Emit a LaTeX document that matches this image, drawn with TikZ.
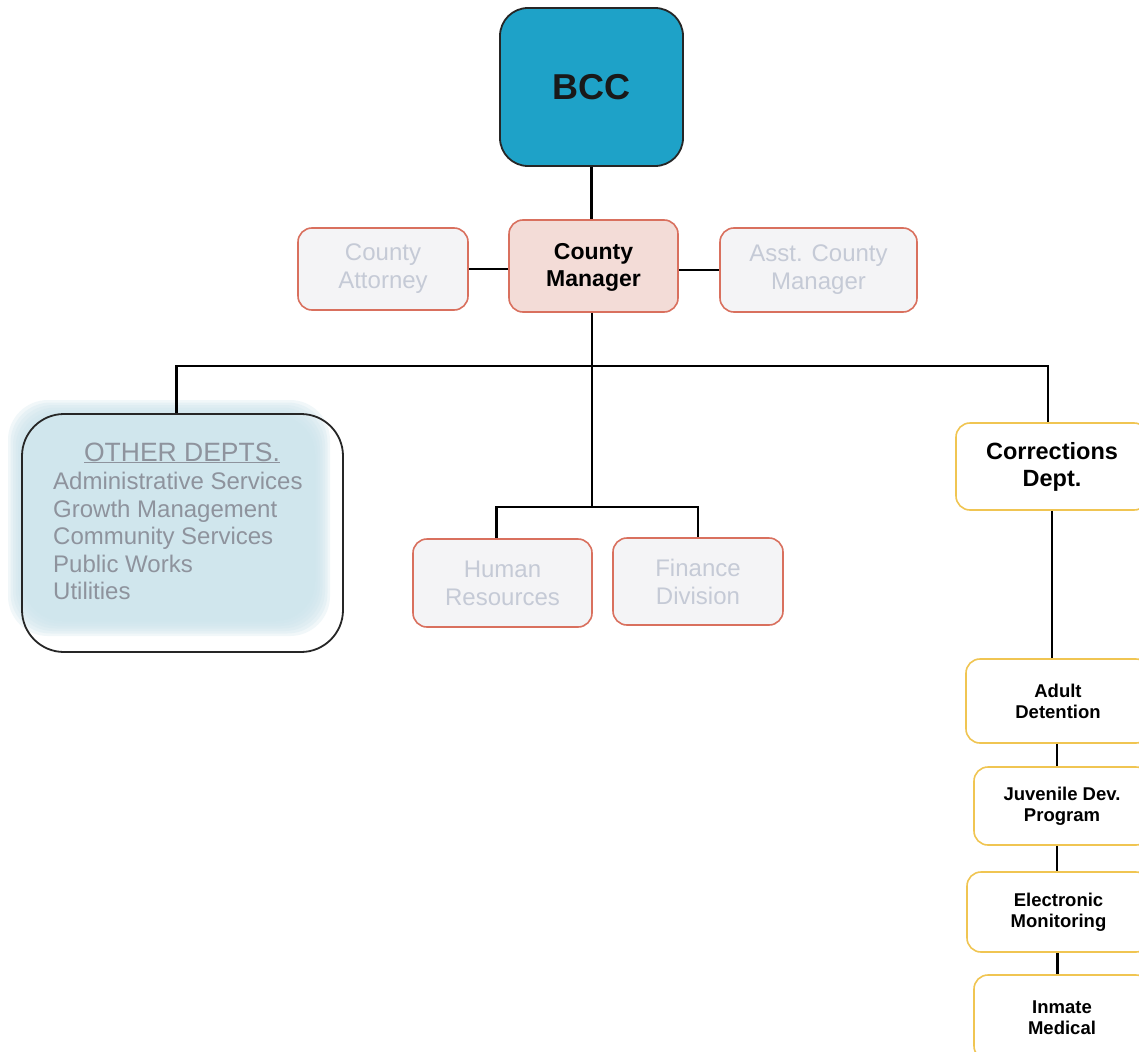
\documentclass[tikz,border=0pt]{standalone}
\usepackage{fontspec}
\setmainfont{Liberation Sans}
\usetikzlibrary{calc}
\definecolor{bccblue}{HTML}{1EA2C8}
\definecolor{boxred}{HTML}{D9705E}
\definecolor{boxgray}{HTML}{F4F4F6}
\definecolor{ghost}{HTML}{C5CAD6}
\definecolor{cmpink}{HTML}{F3DCD7}
\definecolor{gold}{HTML}{F0C552}
\definecolor{odblue}{HTML}{CDE5ED}
\definecolor{odtext}{HTML}{8E939D}
\begin{document}
\begin{tikzpicture}[x=1pt,y=-1pt,
  box/.style={draw, rounded corners=14pt, line width=1.6pt, inner sep=0pt, align=center},
  lightbox/.style={box, draw=boxred, fill=boxgray, text=ghost, font=\fontsize{24}{28}\selectfont},
  cmbox/.style={box, draw=boxred, fill=cmpink, text=black, font=\bfseries\fontsize{23}{27}\selectfont},
  goldbox/.style={box, draw=gold, fill=white, text=black, font=\bfseries\fontsize{18.5}{21}\selectfont},
  link/.style={line width=2.8pt, black}]
\useasboundingbox (0,0) rectangle (1139,1051);
\fill[white] (0,0) rectangle (1139,1051);

% top
\node[box, rounded corners=28pt, draw=black!85, line width=1.8pt, fill=bccblue, text=black!90,
  minimum width=183pt, minimum height=158pt, font=\bfseries\fontsize{36}{40}\selectfont] (bcc) at (591.5,87) {BCC};
\node[cmbox, minimum width=169pt, minimum height=92pt, text depth=3pt] (cm) at (593.5,266) {County\\Manager};
\node[lightbox, minimum width=170pt, minimum height=82pt] (ca) at (383,269) {County\\Attorney};
\node[lightbox, minimum width=197pt, minimum height=84pt] (acm) at (818.5,270) {Asst. County\\Manager};

% middle
\node[lightbox, minimum width=179pt, minimum height=88pt] (hr) at (502.5,583) {Human\\Resources};
\node[lightbox, minimum width=170pt, minimum height=87pt] (fd) at (698,581.5) {Finance\\Division};

% other depts glow + outline
\foreach \i in {0,...,6} {
  \fill[odblue, opacity=0.28, rounded corners=40pt]
    ($(8,400)+(\i*2.5,\i*2.5)$) rectangle ($(330,636)-(\i*2.5,\i*2.5)$);
}
\node[draw=black!85, line width=1.8pt, rounded corners=42pt, minimum width=321pt, minimum height=238pt, inner sep=0pt] (od) at (182.5,533) {};
\node[text=odtext, font=\fontsize{26.5}{28}\selectfont, inner sep=0pt, anchor=base] (odt) at (182,461) {\underline{OTHER DEPTS.}};
\node[text=odtext, font=\fontsize{24}{27.5}\selectfont, align=left, inner sep=0pt, anchor=north west] (odl) at (53,472)
  {Administrative Services\\Growth Management\\Community Services\\Public Works\\Utilities};

% corrections
\node[goldbox, font=\bfseries\fontsize{23.5}{27}\selectfont, minimum width=192pt, minimum height=87pt] (corr) at (1052,466.5) {Corrections\\Dept.};
\node[goldbox, minimum width=184pt, minimum height=84pt] (ad) at (1058,701) {Adult\\Detention};
\node[goldbox, minimum width=176pt, minimum height=78pt] (jd) at (1062,806) {Juvenile Dev.\\Program};
\node[goldbox, minimum width=183pt, minimum height=80pt] (em) at (1058.5,912) {Electronic\\Monitoring};
\node[goldbox, minimum width=176pt, minimum height=85pt] (im) at (1062,1017.5) {Inmate\\Medical};

% connectors
\coordinate (bar) at (592,366);
\coordinate (split) at (592,507);
\draw[link] (bcc.south) -- (bcc.south |- cm.north);
\draw[link] (ca.east) -- (ca.east -| cm.west);
\draw[link] (cm.east |- acm.west) -- (acm.west);
\draw[link] (cm.south -| bar) -- (split);
\draw[link] ([xshift=-6pt]hr.north) |- (split) -| (fd.north);
\draw[link] ([xshift=-6pt]od.north) |- (bar) -| ([xshift=-4pt]corr.north);
\draw[link] (corr.south) -- (corr.south |- ad.north);
\draw[link] ([xshift=-1pt]ad.south) -- ([xshift=-1pt]ad.south |- jd.north);
\draw[link] ([xshift=-5pt]jd.south) -- ([xshift=-5pt]jd.south |- em.north);
\draw[link] ([xshift=-1pt]em.south) -- ([xshift=-1pt]em.south |- im.north);
\end{tikzpicture}
\end{document}
